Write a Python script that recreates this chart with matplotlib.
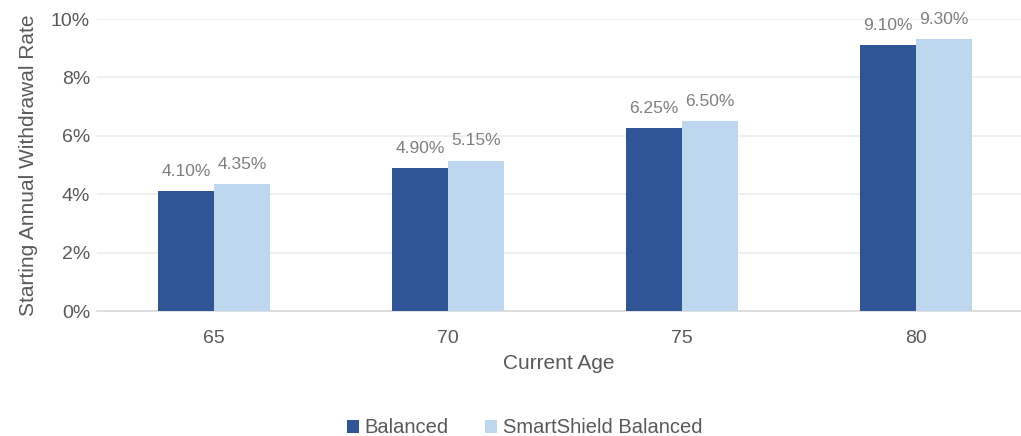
import matplotlib.pyplot as plt
import numpy as np

plt.rcParams['font.family'] = ['Liberation Sans', 'DejaVu Sans']

ages = ['65', '70', '75', '80']
balanced = [4.10, 4.90, 6.25, 9.10]
smartshield = [4.35, 5.15, 6.50, 9.30]
series_names = ['Balanced', 'SmartShield Balanced']

dark = '#2F5597'
light = '#BDD7EE'
txt = '#595959'

fig = plt.figure(figsize=(10.21, 4.36), dpi=100)
ax = fig.add_axes([97 / 1021, 125 / 436, 924 / 1021, 292 / 436])

x = np.arange(len(ages))
w = 0.24
b1 = ax.bar(x - w / 2, balanced, w, color=dark, label=series_names[0], zorder=3)
b2 = ax.bar(x + w / 2, smartshield, w, color=light, label=series_names[1], zorder=3)

for bars, vals in [(b1, balanced), (b2, smartshield)]:
    for r, v in zip(bars, vals):
        ax.text(r.get_x() + r.get_width() / 2, v + 0.42, f'{v:.2f}%',
                ha='center', va='bottom', fontsize=12.5, color='#7F7F7F')

ax.set_xlim(-0.5, -0.5 + 924 / 234)
ax.set_ylim(0, 10)
ax.set_yticks(np.arange(0, 11, 2))
ax.set_yticklabels([f'{t}%' for t in range(0, 11, 2)])
ax.set_xticks(x)
ax.set_xticklabels(ages)
ax.tick_params(length=0, labelsize=14, colors=txt)
ax.tick_params(axis='x', pad=14)
ax.tick_params(axis='y', pad=5)
ax.grid(axis='y', color='#EDEDED', linewidth=1.2, zorder=0)
for s in ['top', 'right', 'left']:
    ax.spines[s].set_visible(False)
ax.spines['bottom'].set_color('#D9D9D9')
ax.spines['bottom'].set_linewidth(1.2)

ax.set_xlabel('Current Age', fontsize=15, color=txt, labelpad=5)
ax.set_ylabel('Starting Annual Withdrawal Rate', fontsize=15, color=txt, labelpad=9)

fig.legend(handles=[b1, b2], loc='lower center', bbox_to_anchor=(0.514, -0.045),
           ncol=2, frameon=False, fontsize=14.5, labelcolor=txt,
           handlelength=0.6, handleheight=0.6, handletextpad=0.3, columnspacing=1.8)

fig.savefig('out.png', dpi=100)
